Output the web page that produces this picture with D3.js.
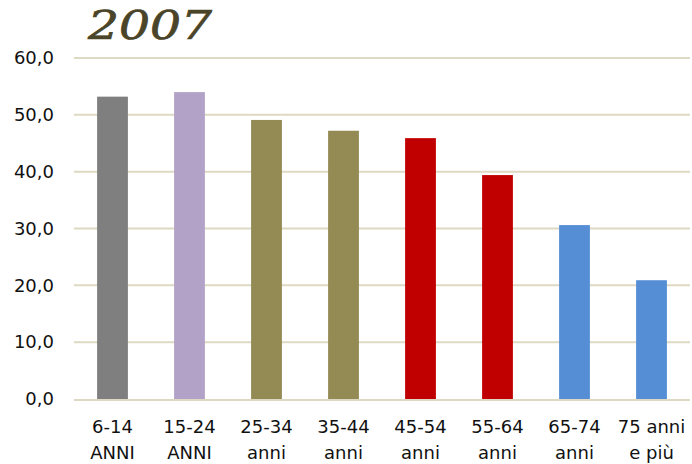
<!DOCTYPE html>
<html>
<head>
<meta charset="utf-8">
<script src="https://cdn.jsdelivr.net/npm/d3@7"></script>
<style>
  body { margin: 0; background: #fff; }
  svg { display: block; }
</style>
</head>
<body>
<svg id="chart"></svg>
<script>
var Categories = [['6-14', 'ANNI'], ['15-24', 'ANNI'], ['25-34', 'anni'], ['35-44', 'anni'],
                  ['45-54', 'anni'], ['55-64', 'anni'], ['65-74', 'anni'], ['75 anni', 'e più']];
var Values = [53.2, 54.0, 49.1, 47.2, 45.9, 39.4, 30.6, 20.9];
var Colors = ['#7f7f7f', '#b2a2c7', '#948a54', '#948a54', '#c00000', '#c00000', '#558ed5', '#558ed5'];
var YTicks = [0, 10, 20, 30, 40, 50, 60];
var Title = '2007';

var Config = {
    width: 692,
    height: 464,
    margin: { top: 58, right: 2, bottom: 65, left: 74 }
};

var svg = d3.select('#chart')
    .attr('width', Config.width)
    .attr('height', Config.height);

var innerW = Config.width - Config.margin.left - Config.margin.right;
var innerH = Config.height - Config.margin.top - Config.margin.bottom;

var chart = svg.append('g')
    .attr('transform', `translate(${Config.margin.left},${Config.margin.top})`);

var x = d3.scaleBand()
    .domain(Categories.map((d, i) => i))
    .range([0, innerW])
    .paddingInner(0.6)
    .paddingOuter(0.3);

var y = d3.scaleLinear()
    .domain([0, 60])
    .range([innerH, 0]);

// gridlines
chart.selectAll('line.grid')
    .data(YTicks.filter(d => d > 0))
    .join('line')
    .attr('class', 'grid')
    .attr('x1', 0).attr('x2', innerW)
    .attr('y1', d => y(d)).attr('y2', d => y(d))
    .attr('stroke', '#ddd9c3')
    .attr('stroke-width', 2);

// bars
chart.selectAll('rect')
    .data(Values)
    .join('rect')
    .attr('x', (d, i) => x(i))
    .attr('y', d => y(d))
    .attr('width', x.bandwidth())
    .attr('height', d => innerH - y(d))
    .attr('fill', (d, i) => Colors[i]);

// baseline
chart.append('line')
    .attr('x1', 0).attr('x2', innerW)
    .attr('y1', innerH + 1).attr('y2', innerH + 1)
    .attr('stroke', '#ddd9c3')
    .attr('stroke-width', 2);

// y labels
var fmt = d => d3.format('.1f')(d).replace('.', ',');
chart.selectAll('text.ytick')
    .data(YTicks)
    .join('text')
    .attr('class', 'ytick')
    .attr('x', -20)
    .attr('y', d => y(d))
    .attr('dy', '0.35em')
    .attr('text-anchor', 'end')
    .attr('font-family', '"DejaVu Sans", sans-serif')
    .attr('font-size', 18)
    .attr('fill', '#111')
    .text(fmt);

// x labels
var xl = chart.selectAll('text.xtick')
    .data(Categories)
    .join('text')
    .attr('class', 'xtick')
    .attr('x', (d, i) => x(i) + x.bandwidth() / 2)
    .attr('y', innerH + 34)
    .attr('text-anchor', 'middle')
    .attr('font-family', '"DejaVu Sans", sans-serif')
    .attr('font-size', 18)
    .attr('fill', '#111');
xl.append('tspan')
    .attr('x', (d, i) => x(i) + x.bandwidth() / 2)
    .text(d => d[0]);
xl.append('tspan')
    .attr('x', (d, i) => x(i) + x.bandwidth() / 2)
    .attr('dy', 26)
    .text(d => d[1]);

// title
svg.append('text')
    .attr('x', 88)
    .attr('y', 39)
    .attr('font-family', '"DejaVu Serif", serif')
    .attr('font-style', 'italic')
    .attr('font-size', 39)
    .attr('textLength', 124)
    .attr('lengthAdjust', 'spacingAndGlyphs')
    .attr('fill', '#4a4428')
    .attr('stroke', '#4a4428')
    .attr('stroke-width', 0.7)
    .text(Title);
</script>
</body>
</html>
